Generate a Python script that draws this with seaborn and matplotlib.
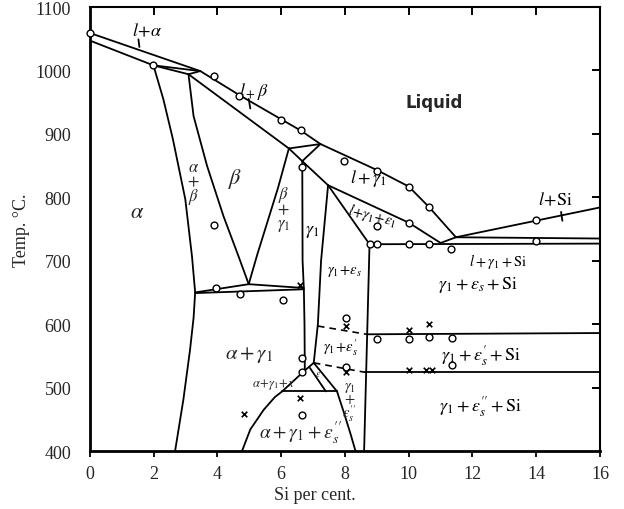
import numpy as np
import pandas as pd
import matplotlib
matplotlib.use("Agg")
import matplotlib.pyplot as plt
from matplotlib import markers as mmarkers
import seaborn as sns

# ---------------- data: phase boundaries (Si %, Temp °C) ----------------
liquidus_alpha_beta = [(0, 1059), (3.46, 999), (4.69, 961), (6.0, 923), (6.62, 905), (7.23, 884)]
liquidus_gamma = [(7.23, 884), (9.0, 843), (10.0, 817), (10.63, 785), (11.48, 737)]
liquidus_si = [(11.48, 737), (16, 784)]
solidus_alpha = [(0, 1047), (1.99, 1008)]
peritectic_1000_a = [(1.99, 1008), (3.46, 999)]
peritectic_1000_b = [(1.99, 1008), (3.09, 994), (3.46, 999)]
solidus_beta = [(3.09, 994), (6.24, 877)]
peritectic_880 = [(6.24, 877), (7.23, 884), (6.66, 857), (6.24, 877)]
solidus_gamma = [(6.66, 857), (7.47, 819), (10.0, 760), (11.0, 728), (11.48, 737)]
gamma_eps_liq = [(7.47, 819), (8.77, 726)]
eutectic_lower = [(8.77, 726), (16, 727)]
eutectic_upper = [(11.48, 737), (16, 735)]
alpha_solvus = [(1.99, 1008), (2.3, 955), (2.6, 892), (2.99, 797), (3.2, 707), (3.3, 650),
                (3.25, 610), (3.14, 560), (2.93, 481), (2.67, 400)]
alpha_beta_right = [(3.09, 994), (3.25, 928), (3.67, 850), (4.19, 770), (4.66, 707), (4.98, 663)]
beta_gamma_left = [(6.24, 877), (5.9, 815), (5.56, 760), (5.25, 710), (4.98, 663)]
eutectoid_upper = [(3.3, 650), (4.98, 663), (6.71, 657)]
eutectoid_lower = [(3.3, 649), (6.71, 655)]
gamma_left = [(6.66, 857), (6.67, 700), (6.71, 655), (6.73, 600), (6.74, 527)]
gamma_right = [(7.47, 819), (7.25, 700), (7.15, 600), (7.02, 539)]
dome = [(4.77, 400), (5.03, 434), (5.45, 465), (5.8, 485), (6.03, 494), (6.74, 527), (7.02, 539)]
eps_right = [(7.02, 539), (7.75, 494), (7.97, 460), (8.18, 426), (8.33, 400)]
eps_inner = [(6.9, 531), (7.4, 494)]
line_494 = [(6.03, 494), (7.75, 494)]
gamma_eps_right = [(8.77, 726), (8.6, 400)]
line_585 = [(8.68, 584), (16, 586)]
line_524 = [(8.64, 524), (16, 524)]
dashed_590 = [(7.15, 597), (8.68, 584)]
dashed_530 = [(7.02, 539), (8.64, 524)]
leader_l_alpha = [(1.52, 1049), (1.55, 1037)]
leader_l_beta = [(4.98, 955), (5.03, 940)]
leader_l_si = [(14.78, 777), (14.82, 763)]

solid_lines = {
    "liquidus_alpha_beta": liquidus_alpha_beta, "liquidus_gamma": liquidus_gamma,
    "liquidus_si": liquidus_si, "solidus_alpha": solidus_alpha,
    "peritectic_1000_a": peritectic_1000_a, "peritectic_1000_b": peritectic_1000_b,
    "solidus_beta": solidus_beta, "peritectic_880": peritectic_880,
    "solidus_gamma": solidus_gamma, "gamma_eps_liq": gamma_eps_liq,
    "eutectic_lower": eutectic_lower, "eutectic_upper": eutectic_upper,
    "alpha_solvus": alpha_solvus, "alpha_beta_right": alpha_beta_right,
    "beta_gamma_left": beta_gamma_left, "eutectoid_upper": eutectoid_upper,
    "eutectoid_lower": eutectoid_lower, "gamma_left": gamma_left,
    "gamma_right": gamma_right, "dome": dome, "eps_right": eps_right,
    "eps_inner": eps_inner, "line_494": line_494, "gamma_eps_right": gamma_eps_right,
    "line_585": line_585, "line_524": line_524,
    "leader_l_alpha": leader_l_alpha, "leader_l_beta": leader_l_beta, "leader_l_si": leader_l_si,
}
dashed_lines = {"dashed_590": dashed_590, "dashed_530": dashed_530}

circle_x = [0, 1.99, 3.9, 4.69, 6.0, 6.62, 7.96, 9.0, 10.0, 10.63, 14.0,
            6.66, 3.9, 9.01, 10.0, 8.77, 9.0, 10.0, 10.63, 11.34, 14.0,
            3.96, 4.72, 6.06, 8.02, 9.01, 10.0, 10.63, 11.37, 11.37, 8.02,
            6.66, 6.66, 6.66]
circle_t = [1059, 1008, 991, 959, 922, 906, 857, 841, 816, 784, 764,
            847, 756, 755, 760, 726, 726, 726, 727, 719, 731,
            657, 648, 638, 610, 577, 577, 579, 578, 535, 532,
            547, 524, 457]
cross_x = [6.58, 8.02, 10.0, 10.64, 8.02, 10.0, 10.55, 10.72, 6.58, 4.84]
cross_t = [661, 597, 590, 601, 524, 528, 528, 528, 484, 459]

xticks = [0, 2, 4, 6, 8, 10, 12, 14, 16]
yticks = [400, 500, 600, 700, 800, 900, 1000, 1100]


def to_frame(d):
    rows = []
    for name, pts in d.items():
        for i, (x, t) in enumerate(pts):
            rows.append({"seg": name, "order": i, "x": x, "T": t})
    return pd.DataFrame(rows)


sns.set_style("ticks")
plt.rcParams["font.family"] = ["Liberation Serif", "DejaVu Serif"]
plt.rcParams["mathtext.fontset"] = "stix"

fig = plt.figure(figsize=(6.24, 5.10), dpi=100)
ax = fig.add_axes([0.1442, 0.1137, 0.8173, 0.8706])

df_s = to_frame(solid_lines)
df_d = to_frame(dashed_lines)
sns.lineplot(data=df_s, x="x", y="T", units="seg", estimator=None, sort=False,
             color="black", lw=1.3, ax=ax)
sns.lineplot(data=df_d, x="x", y="T", units="seg", estimator=None, sort=False,
             color="black", lw=1.2, ax=ax, dashes=False, linestyle=(0, (4, 3)))

sns.scatterplot(x=circle_x, y=circle_t, marker="o", s=24, facecolor="white",
                edgecolor="black", linewidth=1.0, ax=ax, zorder=5, clip_on=False)
sns.scatterplot(x=cross_x, y=cross_t, marker="x", s=16, color="black",
                linewidth=1.2, ax=ax, zorder=5)

ax.set_xlim(0, 16)
ax.set_ylim(400, 1100)
ax.set_xticks(xticks)
ax.set_yticks(yticks)
ax.set_xticklabels([str(v) for v in xticks], fontsize=13)
ax.set_yticklabels([str(v) for v in yticks], fontsize=13)
ax.tick_params(axis="x", bottom=True, top=False, direction="out", length=4, width=1.3,
               pad=6, color="black")
ax.tick_params(axis="y", left=False, right=False, pad=10, color="black")
for side, sp in ax.spines.items():
    sp.set_visible(True)
    sp.set_color("black")
    sp.set_linewidth(2.0 if side in ("left", "bottom") else 1.5)
ax.set_xlabel("")
ax.set_ylabel("")

# inward tick marks on the right and top frame, placed at the tick positions
ax.plot([1] * len(yticks[1:-1]), yticks[1:-1], transform=ax.get_yaxis_transform(),
        linestyle="none", marker=mmarkers.TICKLEFT, markersize=6, markeredgewidth=1.4,
        color="black", clip_on=False, zorder=6)
ax.plot(xticks[1:-1], [1] * len(xticks[1:-1]), transform=ax.get_xaxis_transform(),
        linestyle="none", marker=mmarkers.TICKDOWN, markersize=6, markeredgewidth=1.4,
        color="black", clip_on=False, zorder=6)

fig.text(315 / 624, 1 - 496 / 510, "Si per cent.", ha="center", va="center", fontsize=13)
fig.text(22 / 624, 1 - 230 / 510, "Temp. °C.", ha="center", va="center", fontsize=13, rotation=90)

lab = dict(ha="center", va="center", fontsize=13, color="black")
small = dict(ha="center", va="center", fontsize=10.5, color="black")
ax.text(1.78, 1062, r"$l\!+\!\alpha$", **lab)
ax.text(5.13, 968, r"$l_+\beta$", **lab)
ax.text(10.8, 950, "Liquid", ha="center", va="center", fontsize=12, fontweight="bold",
        family=["DejaVu Sans"])
ax.text(1.47, 776, r"$\alpha$", fontsize=16, ha="center", va="center")
ax.text(3.25, 823, "$\\alpha$\n$+$\n$\\beta$", fontsize=12, ha="center", va="center", linespacing=0.8)
ax.text(4.56, 830, r"$\beta$", fontsize=16, ha="center", va="center")
ax.text(6.07, 782, "$\\beta$\n$+$\n$\\gamma_1$", fontsize=12, ha="center", va="center", linespacing=0.8)
ax.text(6.97, 747, r"$\gamma_1$", **lab)
ax.text(8.75, 831, r"$l+\gamma_1$", **lab)
ax.text(8.85, 773, r"$l\!+\!\gamma_1\!+\!\varepsilon_1$", rotation=-14, **small)
ax.text(14.6, 796, r"$l\!+\!\mathrm{Si}$", **lab)
ax.text(12.8, 700, r"$l+\gamma_1+\mathrm{Si}$", **small)
ax.text(12.16, 663, r"$\gamma_1+\varepsilon_s+\mathrm{Si}$", **lab)
ax.text(7.97, 684, r"$\gamma_1\!+\!\varepsilon_s$", **small)
ax.text(12.26, 552, r"$\gamma_1+\varepsilon_s'+\mathrm{Si}$", **lab)
ax.text(7.86, 565, r"$\gamma_1\!+\!\varepsilon_s'$", **small)
ax.text(12.26, 471, r"$\gamma_1+\varepsilon_s''+\mathrm{Si}$", **lab)
ax.text(8.15, 478, "$\\gamma_1$\n$+$\n$\\varepsilon_s''$", fontsize=10.5, ha="center", va="center", linespacing=0.8)
ax.text(4.98, 553, r"$\alpha+\gamma_1$", fontsize=15, ha="center", va="center")
ax.text(5.75, 507, r"$\alpha\!+\!\gamma_1\!+\!x$", fontsize=9, ha="center", va="center")
ax.text(6.6, 429, r"$\alpha+\gamma_1+\varepsilon_s''$", fontsize=14, ha="center", va="center")
ax.text(7.15, 522, r"$\varepsilon$", fontsize=7, ha="center", va="center")

fig.savefig("out.png", dpi=100)
